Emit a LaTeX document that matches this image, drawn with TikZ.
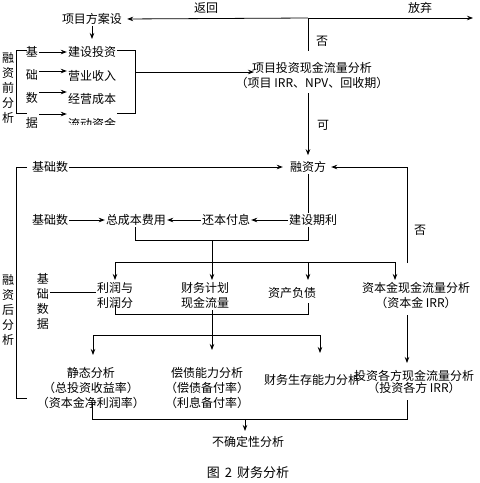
\documentclass[tikz,border=0pt]{standalone}
\usepackage{fontspec}
\setmainfont{Noto Sans CJK SC}
\usetikzlibrary{arrows.meta}
\begin{document}
\begin{tikzpicture}[x=1pt,y=-1pt,
  lbl/.style={inner sep=1pt,font=\fontsize{12}{15}\selectfont,align=center},
  ln/.style={line width=0.8pt},
  arr/.style={ln,-{Stealth[length=6pt,width=4.5pt]}},
]
\useasboundingbox[fill=white] (0,0) rectangle (480,483);

% ---------- top part ----------
\node[lbl] (fa) at (92,19) {项目方案设};
\node[lbl] (fh) at (206,8) {返回};
\node[lbl] (fq) at (420,8) {放弃};
\node[lbl] (f1) at (322,41) {否};
\node[lbl] (tz) at (312,75.5) {项目投资现金流量分析\\（项目 IRR、NPV、回收期）};
\node[lbl] (ke) at (323,125) {可};
\node[lbl] (rzf) at (308,167) {融资方};

\coordinate (top) at (308,18);
\coordinate (topR) at (473,18);
\coordinate (tzTop) at (308,51);
\coordinate (tzBot) at (308,93);
\coordinate (faD) at (92,39);
\draw[arr,shorten >=4pt] (top) -- (fa.east);
\draw[arr] (top) -- (topR);
\draw[ln] (top) -- (tzTop);
\draw[arr,shorten >=5pt] (tzBot) -- (rzf.north);
\draw[arr] (fa.south) -- (faD);

% left block (before financing)
\node[lbl] (rzq) at (8,87.5) {融\\资\\前\\分\\析};
\node[lbl] (ja) at (32,52) {基};
\node[lbl] (jb) at (32,75) {础};
\node[lbl] (jc) at (32,98) {数};
\node[lbl] (jd) at (32,123) {据};
\node[lbl] (jstz) at (92,52) {建设投资};
\node[lbl] (yysr) at (92,76) {营业收入};
\node[lbl] (jycb) at (92,99) {经营成本};
\begin{scope}
\clip (55,110) rectangle (130,124.5);
\node[lbl] (ldzj) at (92,124) {流动资金};
\end{scope}
\draw[arr] (ja.east) -- (jstz.west);
\draw[arr] ([yshift=4pt]jb.east) -- ([yshift=5pt]yysr.west);
\draw[arr] ([yshift=6pt]jc.east) -- ([yshift=7pt]jycb.west);
\draw[arr] ([yshift=9pt]jd.east) -- ([yshift=10pt]ldzj.west);
\draw[ln] (27,50) -- (16,50) -- (16,113) -- (27,113);
\draw[ln] (117,50) -- (135,50) -- (135,113) -- (117,113);
\coordinate (bR) at (135,72);
\coordinate (tzIn) at (254,72);
\draw[arr] (bR) -- (tzIn);

% ---------- after financing ----------
\draw[ln] (27,167) -- (16,167) -- (16,398) -- (27,398);
\node[lbl] (jcs1) at (50,167) {基础数};
\draw[arr,shorten >=6pt] (jcs1.east) -- (rzf.west);
\coordinate (zbjTop) at (407,263);
\draw[arr,shorten >=4pt] (zbjTop) |- (rzf.east);
\node[lbl] (f2) at (420,230) {否};

\node[lbl] (jcs2) at (50,220) {基础数};
\node[lbl] (zcb) at (136,220) {总成本费用};
\node[lbl] (hbfx) at (226,220) {还本付息};
\node[lbl] (jsq) at (313,220) {建设期利};
\draw[arr] (jcs2.east) -- (zcb.west);
\draw[arr] (hbfx.west) -- (zcb.east);
\draw[arr] (jsq.west) -- (hbfx.east);
\draw[ln] (rzf.south) -- (rzf.south |- jsq.north);
\coordinate (m1) at (308,240);
\coordinate (m0) at (135,240);
\draw[ln] (m1 |- jsq.south) -- (m1) -- (m0) -- (m0 |- zcb.south);

\node[lbl] (lr) at (115,295.5) {利润与\\利润分};
\node[lbl] (cwjh) at (205,295.5) {财务计划\\现金流量};
\node[lbl] (zcfz) at (292,293) {资产负债};
\node[lbl] (zbj) at (416,295.5) {资本金现金流量分析\\（资本金 IRR）};
\node[lbl] (jcsj) at (43,301.5) {基\\础\\数\\据};
\node[lbl] (rzh) at (8,310) {融\\资\\后\\分\\析};

\coordinate (m2) at (212,240);
\coordinate (t1) at (115,280);
\coordinate (t2) at (212,280);
\coordinate (t3) at (308,280);
\coordinate (t4) at (395,280);
\draw[arr] (m2) -- (t2);
\draw[ln] (t1 |- 0,262) -- (t4 |- 0,262);
\draw[arr] (t1 |- 0,262) -- (t1);
\draw[arr] (t3 |- 0,262) -- (t3);
\draw[arr] (t4 |- 0,262) -- (t4);

\coordinate (y292) at (0,292);
\draw[ln] (jcsj.east |- y292) -- ([yshift=3.5pt]lr.west);

% gather lines
\draw[ln] (115,305) -- (115,314) -- (308,314) -- (308,303);
\coordinate (b1) at (93,355);
\coordinate (b2) at (212,350);
\coordinate (b3) at (320,353);
\coordinate (b4) at (407,363);
\draw[arr] (212,310) -- (b2);
\draw[ln] (93,335) -- (320,335);
\draw[arr] (93,335) -- (b1);
\draw[arr] (320,335) -- (b3);
\draw[arr] (407,315) -- (b4);

\node[lbl] (jt) at (91,388) {静态分析\\（总投资收益率）\\（资本金净利润率）};
\node[lbl] (cz) at (207,388) {偿债能力分析\\（偿债备付率）\\（利息备付率）};
\node[lbl] (cwsc) at (312,380) {财务生存能力分析};
\node[lbl] (tzgf) at (414,382) {投资各方现金流量分析\\[-3pt]（投资各方 IRR）};

\draw[ln] (92,403) -- (92,419) -- (407,419) -- (407,400);
\node[lbl] (bqd) at (248,442) {不确定性分析};
\coordinate (bq0) at (245,419);
\draw[arr] (bq0) -- (245,431);

\node[lbl,font=\fontsize{13}{15}\selectfont] (cap) at (248,473) {图\hspace{5pt}2\hspace{5pt}财务分析};
\end{tikzpicture}
\end{document}
